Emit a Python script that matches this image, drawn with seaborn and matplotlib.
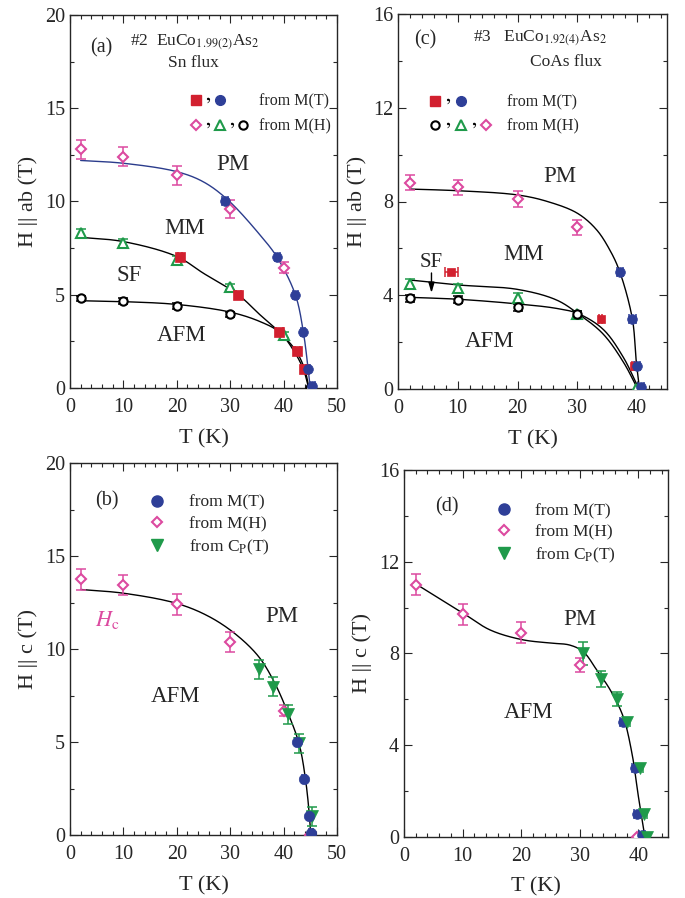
import numpy as np
import pandas as pd
import matplotlib
matplotlib.use("Agg")
import matplotlib.pyplot as plt
import seaborn as sns
from matplotlib.lines import Line2D
from matplotlib.legend_handler import HandlerTuple
from matplotlib.ticker import MultipleLocator

# ---------------- data ----------------
# panel (a)  #2 Sn flux, H || ab
a_mt_sq_T = [20.6, 31.5, 39.2, 42.6, 43.9]
a_mt_sq_H = [7.0, 5.0, 3.0, 2.0, 1.0]
a_mt_sq_xerr = [0.4, 0.5, 0.6, 0.5, 0.4]
a_mt_ci_T = [29.0, 38.8, 42.2, 43.7, 44.6, 45.4]
a_mt_ci_H = [10.0, 7.0, 5.0, 3.0, 1.0, 0.1]
a_mt_ci_xerr = [0.5, 0.5, 0.5, 0.4, 0.4, 0.5]
a_mh_di_T = [2, 10, 20, 30, 40]
a_mh_di_H = [12.8, 12.4, 11.4, 9.6, 6.45]
a_mh_di_yerr = [0.5, 0.5, 0.5, 0.5, 0.3]
a_mh_tr_T = [2, 10, 20, 30, 40]
a_mh_tr_H = [8.3, 7.8, 6.86, 5.4, 2.84]
a_mh_tr_yerr = [0.2, 0.2, 0.2, 0.15, 0.15]
a_mh_oc_T = [2, 10, 20, 30, 45]
a_mh_oc_H = [4.8, 4.68, 4.41, 3.95, 0.0]
a_mh_oc_yerr = [0.15, 0.15, 0.15, 0.15, 0.0]
# guide curves (a)
a_pm_T = [2, 10, 20, 25, 29.5, 35.6, 38.8, 42.2, 43.7, 44.6, 45.0]
a_pm_H = [12.2, 12.05, 11.6, 11.05, 10.1, 8.2, 7.0, 5.0, 3.0, 1.0, 0.0]
a_mm_T = [2, 10, 20, 25, 31.5, 35.6, 39.2, 42.3, 43.95, 44.75]
a_mm_H = [8.08, 7.85, 7.05, 6.15, 5.0, 3.92, 3.0, 2.0, 1.0, 0.0]
a_af_T = [2, 10, 20, 30, 35.6, 39.2, 41.9, 43.7, 44.7]
a_af_H = [4.68, 4.63, 4.48, 4.07, 3.56, 3.0, 2.0, 1.0, 0.0]

# panel (c)  #3 CoAs flux, H || ab
c_mt_sq_T = [8.9, 33.9, 39.4]
c_mt_sq_H = [5.0, 3.0, 1.0]
c_mt_sq_xerr = [1.1, 0.3, 0.3]
c_mt_ci_T = [37.1, 39.2, 39.9, 40.7]
c_mt_ci_H = [5.0, 3.0, 1.0, 0.1]
c_mt_ci_xerr = [0.5, 0.6, 0.5, 0.5]
c_mh_oc_T = [2, 10, 20, 30]
c_mh_oc_H = [3.87, 3.8, 3.49, 3.2]
c_mh_oc_yerr = [0.15, 0.15, 0.15, 0.12]
c_mh_tr_T = [2, 10, 20, 30, 39.8]
c_mh_tr_H = [4.5, 4.3, 3.9, 3.2, 0.0]
c_mh_tr_yerr = [0.2, 0.2, 0.2, 0.12, 0.0]
c_mh_di_T = [2, 10, 20, 30]
c_mh_di_H = [8.8, 8.6, 8.1, 6.9]
c_mh_di_yerr = [0.33, 0.33, 0.33, 0.33]
c_pm_T = [2, 10, 20, 25, 30, 33.2, 35.5, 37.1, 39.2, 39.85, 40.4]
c_pm_H = [8.53, 8.46, 8.28, 8.0, 7.5, 6.8, 5.9, 5.0, 3.0, 1.2, 0.0]
c_mm_T = [2, 10, 20, 26.5, 30.1, 34.3, 37.7, 40.1]
c_mm_H = [4.65, 4.44, 4.25, 3.8, 3.22, 2.35, 1.15, 0.0]
c_af_T = [2, 10, 20, 26.5, 30.1, 34.3, 37.7, 40.3]
c_af_H = [3.91, 3.83, 3.63, 3.44, 3.22, 2.55, 1.35, 0.0]

# panel (b)  H || c, #2
b_mt_ci_T = [42.45, 43.8, 44.8, 45.1]
b_mt_ci_H = [5.0, 3.0, 1.0, 0.1]
b_mt_ci_xerr = [0.4, 0.4, 0.4, 0.4]
b_mh_di_T = [2, 10, 20, 30, 40, 45]
b_mh_di_H = [13.74, 13.44, 12.4, 10.39, 6.68, 0.0]
b_mh_di_yerr = [0.55, 0.55, 0.55, 0.55, 0.3, 0.0]
b_cp_tr_T = [35.3, 38.0, 40.8, 42.95, 45.3]
b_cp_tr_H = [8.9, 7.97, 6.48, 4.93, 1.0]
b_cp_tr_yerr = [0.5, 0.5, 0.5, 0.5, 0.5]
b_fit_T = [2, 10, 20, 26, 31, 35.3, 38.2, 40.9, 42.9, 44.1, 44.9, 45.05]
b_fit_H = [13.2, 13.0, 12.45, 11.75, 10.8, 9.6, 8.25, 6.5, 4.9, 3.0, 0.8, 0.0]

# panel (d)  H || c, #3
d_mt_ci_T = [37.3, 39.4, 39.7, 40.6]
d_mt_ci_H = [5.0, 3.0, 1.0, 0.07]
d_mt_ci_xerr = [0.5, 0.5, 0.5, 0.5]
d_mh_di_T = [2, 10, 20, 30, 39.7]
d_mh_di_H = [11.0, 9.7, 8.9, 7.5, 0.0]
d_mh_di_yerr = [0.45, 0.45, 0.45, 0.3, 0.0]
d_cp_tr_T = [30.5, 33.6, 36.3, 38.1, 40.3, 41.0, 41.4]
d_cp_tr_H = [8.0, 6.9, 6.0, 5.0, 3.0, 1.0, 0.0]
d_cp_tr_yerr = [0.5, 0.35, 0.3, 0.0, 0.0, 0.0, 0.0]
d_cp_tr_xerr = [0.0, 0.0, 0.0, 0.5, 0.5, 0.5, 0.0]
d_fit_T = [2.2, 10.1, 14.7, 20.1, 24.9, 28.3, 30.6, 32.9, 35.2, 37.4, 38.9, 40.0, 41.1]
d_fit_H = [11.0, 9.75, 9.02, 8.6, 8.45, 8.36, 8.07, 7.27, 6.4, 5.24, 3.64, 1.75, 0.0]

# ---------------- style ----------------
sns.set_style("ticks")
plt.rcParams["font.family"] = ["Liberation Serif", "DejaVu Serif"]
plt.rcParams["mathtext.fontset"] = "stix"
plt.rcParams["axes.linewidth"] = 1.0

RED = "#d2202f"
BLUE = "#2e3f98"
PINK = "#dc4aa0"
GREEN = "#1f9a4a"
NAVY = "#2b3c8c"

fig = plt.figure(figsize=(6.85, 8.98), dpi=100)
W, Hf = 685.0, 898.0
ax_a = fig.add_axes([70 / W, 1 - 388 / Hf, 267 / W, 373 / Hf])
ax_c = fig.add_axes([398 / W, 1 - 389 / Hf, 269 / W, 375 / Hf])
ax_b = fig.add_axes([70 / W, 1 - 835 / Hf, 267 / W, 372 / Hf])
ax_d = fig.add_axes([404 / W, 1 - 836.7 / Hf, 263.7 / W, 366.7 / Hf])


def smooth(xs, ys, xmax, ymax, n=40, alpha=0.5):
    P = np.column_stack([np.asarray(xs, float) / xmax, np.asarray(ys, float) / ymax * 1.4])
    P = np.vstack([2 * P[0] - P[1], P, 2 * P[-1] - P[-2]])
    out = []
    for i in range(1, len(P) - 2):
        P0, P1, P2, P3 = P[i - 1], P[i], P[i + 1], P[i + 2]
        t0 = 0.0
        t1 = t0 + np.linalg.norm(P1 - P0) ** alpha
        t2 = t1 + np.linalg.norm(P2 - P1) ** alpha
        t3 = t2 + np.linalg.norm(P3 - P2) ** alpha
        t = np.linspace(t1, t2, n, endpoint=False)[:, None]
        A1 = (t1 - t) / (t1 - t0) * P0 + (t - t0) / (t1 - t0) * P1
        A2 = (t2 - t) / (t2 - t1) * P1 + (t - t1) / (t2 - t1) * P2
        A3 = (t3 - t) / (t3 - t2) * P2 + (t - t2) / (t3 - t2) * P3
        B1 = (t2 - t) / (t2 - t0) * A1 + (t - t0) / (t2 - t0) * A2
        B2 = (t3 - t) / (t3 - t1) * A2 + (t - t1) / (t3 - t1) * A3
        C = (t2 - t) / (t2 - t1) * B1 + (t - t1) / (t2 - t1) * B2
        out.append(C)
    out.append(P[-2][None, :])
    C = np.vstack(out)
    return C[:, 0] * xmax, C[:, 1] * ymax / 1.4


def curve(ax, T, H, xmax, ymax, color="k"):
    x, y = smooth(T, H, xmax, ymax)
    df = pd.DataFrame({"T": x, "H": y})
    sns.lineplot(data=df, x="T", y="H", sort=False, estimator=None, color=color,
                 lw=1.0, ax=ax, zorder=3, legend=False)


def ebar(ax, T, H, color, xerr=None, yerr=None):
    T = np.asarray(T, float); H = np.asarray(H, float)
    if yerr is not None:
        e = np.asarray(yerr, float); m = e > 0
        if m.any():
            ax.errorbar(T[m], H[m], yerr=e[m], fmt="none", ecolor=color, elinewidth=1.1,
                        capsize=3.5, capthick=1.1, zorder=4)
    if xerr is not None:
        e = np.asarray(xerr, float); m = e > 0
        if m.any():
            ax.errorbar(T[m], H[m], xerr=e[m], fmt="none", ecolor=color, elinewidth=1.1,
                        capsize=3.5, capthick=1.1, zorder=4)


def pts(ax, T, H, marker, color, filled=True, ms=7.0):
    df = pd.DataFrame({"T": T, "H": H})
    if filled:
        kw = dict(markerfacecolor=color, markeredgecolor=color, markeredgewidth=0.5)
    else:
        kw = dict(markerfacecolor="white", markeredgecolor=color, markeredgewidth=1.5)
    sns.lineplot(data=df, x="T", y="H", marker=marker, linestyle="none", markersize=ms,
                 estimator=None, sort=False, color=color, ax=ax, zorder=5, legend=False, **kw)


def style(ax, xmax, ymax, ymaj, ymin, ylabel, xlab_coord, ylab_coord):
    ax.set_xlim(0, xmax)
    ax.set_ylim(0, ymax)
    ax.xaxis.set_major_locator(MultipleLocator(10))
    ax.xaxis.set_minor_locator(MultipleLocator(2))
    ax.yaxis.set_major_locator(MultipleLocator(ymaj))
    ax.yaxis.set_minor_locator(MultipleLocator(ymin))
    ax.tick_params(which="both", direction="in", top=True, right=True, width=0.8, labelsize=14.5)
    ax.tick_params(which="major", length=6)
    ax.tick_params(which="minor", length=3)
    ax.tick_params(axis="x", pad=7.5)
    ax.tick_params(axis="y", pad=3.6)
    ax.set_xlabel("T (K)", fontsize=16)
    ax.set_ylabel(ylabel, fontsize=16)
    ax.xaxis.set_label_coords(0.5, xlab_coord)
    ax.yaxis.set_label_coords(ylab_coord, 0.5)
    for s in ax.spines.values():
        s.set_visible(True)
        s.set_linewidth(1.0)


FS_BIG = 16.5

comma = Line2D([], [], marker="$,$", ls="none", color="k", ms=4.0, mew=0)
blank = Line2D([], [], ls="none")
h_sq = Line2D([], [], marker="s", ls="none", color=RED, ms=6.5)
h_ci = Line2D([], [], marker="o", ls="none", color=BLUE, ms=7)
h_di = Line2D([], [], marker="D", ls="none", mfc="white", mec=PINK, mew=1.5, ms=5.5)
h_tr = Line2D([], [], marker="^", ls="none", mfc="white", mec=GREEN, mew=1.5, ms=6.5)
h_oc = Line2D([], [], marker="o", ls="none", mfc="white", mec="k", mew=1.5, ms=6)

# ---------------- panel (a) ----------------
ax = ax_a
curve(ax, a_pm_T, a_pm_H, 50, 20, NAVY)
curve(ax, a_mm_T, a_mm_H, 50, 20)
curve(ax, a_af_T, a_af_H, 50, 20)
ebar(ax, a_mh_di_T, a_mh_di_H, PINK, yerr=a_mh_di_yerr)
ebar(ax, a_mh_tr_T, a_mh_tr_H, GREEN, yerr=a_mh_tr_yerr)
ebar(ax, a_mh_oc_T, a_mh_oc_H, "k", yerr=a_mh_oc_yerr)
ebar(ax, a_mt_sq_T, a_mt_sq_H, RED, xerr=a_mt_sq_xerr)
ebar(ax, a_mt_ci_T, a_mt_ci_H, BLUE, xerr=a_mt_ci_xerr)
pts(ax, a_mh_di_T, a_mh_di_H, "D", PINK, filled=False, ms=5.5)
pts(ax, a_mh_tr_T, a_mh_tr_H, "^", GREEN, filled=False, ms=6.5)
pts(ax, a_mh_oc_T, a_mh_oc_H, "o", "k", filled=False, ms=6.0)
pts(ax, a_mt_sq_T, a_mt_sq_H, "s", RED, ms=6.5)
pts(ax, a_mt_ci_T, a_mt_ci_H, "o", BLUE, ms=7)
style(ax, 50, 20, 5, 2.5, "H || ab (T)", -0.11, -0.12)
ax.text(5.9, 18.0, "(a)", fontsize=14.5, ha="center", va="baseline")
ax.text(11.2, 18.35, "#2  EuCo$_{1.99(2)}$As$_2$", fontsize=12.5, ha="left", va="baseline")
ax.text(18.4, 17.2, "Sn flux", fontsize=12.5, ha="left", va="baseline")
ax.text(30.5, 11.69, "PM", fontsize=FS_BIG, ha="center", va="baseline")
ax.text(21.5, 8.26, "MM", fontsize=FS_BIG, ha="center", va="baseline")
ax.text(11.05, 5.74, "SF", fontsize=FS_BIG, ha="center", va="baseline")
ax.text(20.9, 2.54, "AFM", fontsize=FS_BIG, ha="center", va="baseline")
ax.legend([(h_sq, comma, h_ci, blank, blank), (h_di, comma, h_tr, comma, h_oc)],
          ["from M(T)", "from M(H)"],
          handler_map={tuple: HandlerTuple(ndivide=None, pad=0)},
          handlelength=3.7, loc="upper left", bbox_to_anchor=(0.45, 0.79),
          frameon=False, fontsize=11.5, borderpad=0, borderaxespad=0,
          handletextpad=0.6, labelspacing=0.55)

# ---------------- panel (c) ----------------
ax = ax_c
curve(ax, c_pm_T, c_pm_H, 45, 16)
curve(ax, c_mm_T, c_mm_H, 45, 16)
curve(ax, c_af_T, c_af_H, 45, 16)
ebar(ax, c_mh_di_T, c_mh_di_H, PINK, yerr=c_mh_di_yerr)
ebar(ax, c_mh_tr_T, c_mh_tr_H, GREEN, yerr=c_mh_tr_yerr)
ebar(ax, c_mh_oc_T, c_mh_oc_H, "k", yerr=c_mh_oc_yerr)
ebar(ax, c_mt_sq_T, c_mt_sq_H, RED, xerr=c_mt_sq_xerr)
ebar(ax, c_mt_ci_T, c_mt_ci_H, BLUE, xerr=c_mt_ci_xerr)
pts(ax, c_mh_di_T, c_mh_di_H, "D", PINK, filled=False, ms=5.5)
pts(ax, c_mh_tr_T, c_mh_tr_H, "^", GREEN, filled=False, ms=6.5)
pts(ax, c_mh_oc_T, c_mh_oc_H, "o", "k", filled=False, ms=6.0)
pts(ax, c_mt_sq_T, c_mt_sq_H, "s", RED, ms=5.5)
pts(ax, c_mt_ci_T, c_mt_ci_H, "o", BLUE, ms=7)
style(ax, 45, 16, 4, 2, "H || ab (T)", -0.11, -0.115)
ax.text(4.6, 14.68, "(c)", fontsize=14.5, ha="center", va="baseline")
ax.text(12.6, 14.85, "#3   EuCo$_{1.92(4)}$As$_2$", fontsize=12.5, ha="left", va="baseline")
ax.text(22.1, 13.8, "CoAs flux", fontsize=12.5, ha="left", va="baseline")
ax.text(27.1, 8.85, "PM", fontsize=FS_BIG, ha="center", va="baseline")
ax.text(21.1, 5.5, "MM", fontsize=FS_BIG, ha="center", va="baseline")
ax.text(15.4, 1.8, "AFM", fontsize=FS_BIG, ha="center", va="baseline")
ax.text(5.6, 5.2, "SF", fontsize=15, ha="center", va="baseline")
ax.annotate("", xy=(5.6, 4.1), xytext=(5.6, 4.95),
            arrowprops=dict(arrowstyle="-|>,head_length=0.6,head_width=0.18", color="k",
                            lw=1.0, shrinkA=0, shrinkB=0))
ax.legend([(h_sq, comma, h_ci, blank, blank), (h_oc, comma, h_tr, comma, h_di)],
          ["from M(T)", "from M(H)"],
          handler_map={tuple: HandlerTuple(ndivide=None, pad=0)},
          handlelength=4.0, loc="upper left", bbox_to_anchor=(0.115, 0.785),
          frameon=False, fontsize=11.5, borderpad=0, borderaxespad=0,
          handletextpad=0.9, labelspacing=0.5)

# ---------------- panel (b) ----------------
ax = ax_b
curve(ax, b_fit_T, b_fit_H, 50, 20)
ebar(ax, b_mh_di_T, b_mh_di_H, PINK, yerr=b_mh_di_yerr)
ebar(ax, b_cp_tr_T, b_cp_tr_H, GREEN, yerr=b_cp_tr_yerr)
ebar(ax, b_mt_ci_T, b_mt_ci_H, BLUE, xerr=b_mt_ci_xerr)
pts(ax, b_mh_di_T, b_mh_di_H, "D", PINK, filled=False, ms=5.5)
pts(ax, b_cp_tr_T, b_cp_tr_H, "v", GREEN, ms=8)
pts(ax, b_mt_ci_T, b_mt_ci_H, "o", BLUE, ms=7.5)
style(ax, 50, 20, 5, 2.5, "H || c (T)", -0.11, -0.12)
ax.text(6.9, 17.69, "(b)", fontsize=14.5, ha="center", va="baseline")
ax.text(4.7, 11.25, "$H$$_\\mathrm{c}$", fontsize=16, ha="left", va="baseline", color=PINK)
ax.text(39.6, 11.47, "PM", fontsize=FS_BIG, ha="center", va="baseline")
ax.text(19.7, 7.17, "AFM", fontsize=FS_BIG, ha="center", va="baseline")
hb_ci = Line2D([], [], marker="o", ls="none", color=BLUE, ms=8)
hb_di = Line2D([], [], marker="D", ls="none", mfc="white", mec=PINK, mew=1.5, ms=5.5)
hb_tr = Line2D([], [], marker="v", ls="none", color=GREEN, ms=9)
ax.legend([hb_ci, hb_di, hb_tr], ["from M(T)", "from M(H)", "from C$_\\mathrm{P}$(T)"],
          handlelength=1.0, loc="upper left", bbox_to_anchor=(0.293, 0.915),
          frameon=False, fontsize=12.5, borderpad=0, borderaxespad=0,
          handletextpad=1.35, labelspacing=0.3)

# ---------------- panel (d) ----------------
ax = ax_d
curve(ax, d_fit_T, d_fit_H, 45, 16)
ebar(ax, d_mh_di_T, d_mh_di_H, PINK, yerr=d_mh_di_yerr)
ebar(ax, d_cp_tr_T, d_cp_tr_H, GREEN, yerr=d_cp_tr_yerr, xerr=d_cp_tr_xerr)
ebar(ax, d_mt_ci_T, d_mt_ci_H, BLUE, xerr=d_mt_ci_xerr)
pts(ax, d_mh_di_T, d_mh_di_H, "D", PINK, filled=False, ms=5.5)
pts(ax, d_mt_ci_T, d_mt_ci_H, "o", BLUE, ms=7)
pts(ax, d_cp_tr_T, d_cp_tr_H, "v", GREEN, ms=8)
style(ax, 45, 16, 4, 2, "H || c (T)", -0.11, -0.121)
ax.text(7.3, 14.21, "(d)", fontsize=14.5, ha="center", va="baseline")
ax.text(30.0, 9.24, "PM", fontsize=FS_BIG, ha="center", va="baseline")
ax.text(21.2, 5.17, "AFM", fontsize=FS_BIG, ha="center", va="baseline")
ax.legend([hb_ci, hb_di, hb_tr], ["from M(T)", "from M(H)", "from C$_\\mathrm{P}$(T)"],
          handlelength=1.0, loc="upper left", bbox_to_anchor=(0.345, 0.91),
          frameon=False, fontsize=12.5, borderpad=0, borderaxespad=0,
          handletextpad=1.3, labelspacing=0.3)

fig.savefig("out.png", dpi=100)
